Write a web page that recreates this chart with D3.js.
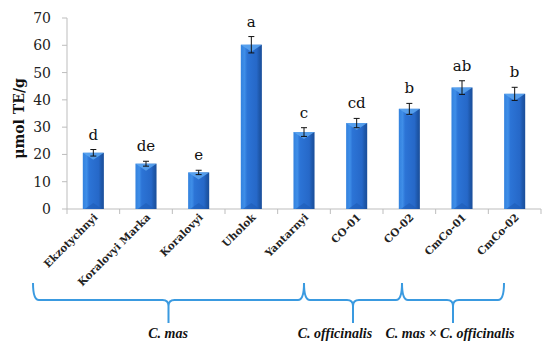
<!DOCTYPE html>
<html><head><meta charset="utf-8">
<script src="https://cdn.jsdelivr.net/npm/d3@7"></script>
<style>body{margin:0;background:#fff}svg{display:block}</style>
</head><body>
<svg id="c" width="550" height="346"></svg>
<script>
const categories = ["Ekzotychnyi","Koralovyi Marka","Koralovyi","Uholok","Yantarnyi","CO-01","CO-02","CmCo-01","CmCo-02"];
const values = [20.6, 16.6, 13.4, 60.2, 28.2, 31.5, 36.7, 44.5, 42.2];
const errors = [1.2, 0.9, 0.8, 3.0, 1.6, 1.7, 2.0, 2.5, 2.4];
const letters = ["d","de","e","a","c","cd","b","ab","b"];
const yTicks = [0,10,20,30,40,50,60,70];
const groups = ["C. mas","C. officinalis","C. mas × C. officinalis"];

const svg = d3.select("#c");
const L = 67, R = 541, T = 18, B = 209;
const x = d3.scaleBand().domain(categories).range([L, R]).paddingInner(0.6).paddingOuter(0.3);
const xb = d3.scaleBand().domain(categories).range([L, R]);
const y = d3.scaleLinear().domain([0,70]).range([B, T]);

const defs = svg.append("defs");
const g = defs.append("linearGradient").attr("id","bar").attr("x1","0").attr("x2","1").attr("y1","0").attr("y2","0");
[[0,"#3382de"],[0.18,"#3f8ee8"],[0.3,"#2c74d6"],[0.75,"#2668c8"],[0.88,"#1e58ab"],[1,"#1a4e9a"]]
  .forEach(([o,c]) => g.append("stop").attr("offset",o).attr("stop-color",c));

// axes
const axisColor = "#bdbdbd";
svg.append("line").attr("x1",L).attr("x2",L).attr("y1",T).attr("y2",B).attr("stroke",axisColor);
svg.append("line").attr("x1",L).attr("x2",R).attr("y1",B).attr("y2",B).attr("stroke",axisColor);
yTicks.forEach(t => {
  svg.append("line").attr("x1",L-5).attr("x2",L).attr("y1",y(t)).attr("y2",y(t)).attr("stroke",axisColor);
  svg.append("text").attr("x",L-16).attr("y",y(t)).attr("dy","0.36em").attr("text-anchor","end")
    .attr("font-family","DejaVu Serif").attr("font-size",14).attr("fill","#222").text(t);
});
const bounds = categories.map(c => xb(c)).concat([R]);
bounds.forEach(bx => svg.append("line").attr("x1",bx).attr("x2",bx).attr("y1",B).attr("y2",B+5).attr("stroke",axisColor));

svg.append("text").attr("transform",`translate(24,${(T+B)/2+5}) rotate(-90)`).attr("text-anchor","middle")
  .attr("font-family","DejaVu Serif").attr("font-weight","bold").attr("font-size",14).attr("fill","#111").text("μmol TE/g");

// bars
categories.forEach((c,i) => {
  const bx = x(c), bw = x.bandwidth(), top = y(values[i]);
  svg.append("rect").attr("x",bx).attr("y",top).attr("width",bw).attr("height",B-top).attr("fill","url(#bar)");
  svg.append("path").attr("d",`M${bx},${top}L${bx+bw},${top}L${bx+bw/2},${top+7}Z`).attr("fill","#5aa3ee").attr("opacity",0.9);
  svg.append("path").attr("d",`M${bx+2},${B}L${bx+bw-2},${B}L${bx+bw/2},${B-6}Z`).attr("fill","#1e5cb5").attr("opacity",0.6);
  const cx = bx + bw/2;
  const e1 = y(values[i]+errors[i]), e0 = y(values[i]-errors[i]);
  svg.append("line").attr("x1",cx).attr("x2",cx).attr("y1",e1).attr("y2",e0).attr("stroke","#111").attr("stroke-width",1);
  [e1,e0].forEach(ey => svg.append("line").attr("x1",cx-3).attr("x2",cx+3).attr("y1",ey).attr("y2",ey).attr("stroke","#111").attr("stroke-width",1));
  svg.append("text").attr("x",cx).attr("y",e1-10).attr("text-anchor","middle")
    .attr("font-family","DejaVu Serif").attr("font-size",15).attr("fill","#111").text(letters[i]);
  svg.append("text").attr("transform",`translate(${cx+5},${B+9}) rotate(-45)`).attr("text-anchor","end")
    .attr("font-family","DejaVu Serif").attr("font-weight","bold").attr("font-size",10.5).attr("fill","#222").text(c);
});

// braces
const brColor = "#3a9ae0";
const yTop = 283, yMid = 300, yBot = 323;
const edges = [33, 304, 402, 504];
const labelX = [168, 335, 450];
groups.forEach((name,i) => {
  const a = edges[i], b = edges[i+1], m = (a+b)/2;
  const p = d3.path();
  p.moveTo(a, yTop); p.quadraticCurveTo(a, yMid, a+6, yMid);
  p.lineTo(m-6, yMid); p.quadraticCurveTo(m, yMid, m, yMid+6); p.lineTo(m, yBot);
  p.moveTo(m, yMid+6); p.quadraticCurveTo(m, yMid, m+6, yMid);
  p.lineTo(b-6, yMid); p.quadraticCurveTo(b, yMid, b, yTop);
  svg.append("path").attr("d",p.toString()).attr("fill","none").attr("stroke",brColor).attr("stroke-width",2);
  svg.append("text").attr("x",labelX[i]).attr("y",338).attr("text-anchor","middle")
    .attr("font-family","Liberation Serif").attr("font-style","italic").attr("font-weight","bold")
    .attr("font-size",14).attr("fill","#111").text(name);
});
</script>
</body></html>
